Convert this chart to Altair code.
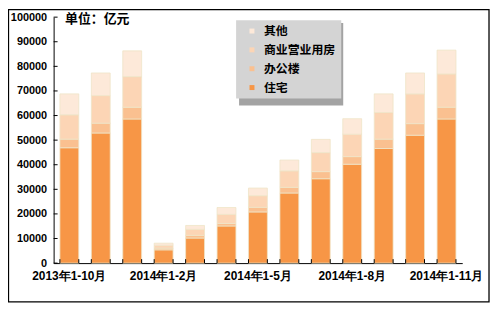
import altair as alt
import pandas as pd

# ---- data (亿元) ----
periods = ["2013年1-10月", "2013年1-11月", "2013年1-12月", "2014年1-2月", "2014年1-3月",
           "2014年1-4月", "2014年1-5月", "2014年1-6月", "2014年1-7月", "2014年1-8月",
           "2014年1-9月", "2014年1-10月", "2014年1-11月"]
shown_labels = ["2013年1-10月", "2014年1-2月", "2014年1-5月", "2014年1-8月", "2014年1-11月"]
residential = [46900, 52900, 58600, 5400, 10200, 15100, 20800, 28500, 34300, 40200, 46600, 52000, 58600]
office = [3500, 4000, 4800, 700, 1100, 1000, 1900, 2300, 2900, 3100, 3800, 4700, 4800]
commercial = [9900, 11200, 12400, 1100, 2400, 3700, 4700, 6700, 7700, 9100, 10800, 12100, 13500]
other = [8500, 9200, 10500, 900, 1600, 2800, 3100, 4400, 5400, 6300, 7600, 8500, 9700]
series_names = ["住宅", "办公楼", "商业营业用房", "其他"]
legend_order = ["其他", "商业营业用房", "办公楼", "住宅"]
colors = ["#FDE9D9", "#FCD5B5", "#FAC090", "#F79646"]
y_ticks = list(range(0, 100001, 10000))

rows = []
for s_i, (name, vals) in enumerate(zip(series_names, [residential, office, commercial, other])):
    for p, v in zip(periods, vals):
        rows.append({"period": p, "series": name, "value": v, "rank": s_i})
df = pd.DataFrame(rows)

FONT = "Liberation Sans"
CJK = "Noto Sans CJK SC"

W, H = 412, 248
xscale = alt.Scale(domain=periods, paddingInner=0.4, paddingOuter=0.2)
yscale = alt.Scale(domain=[0, 100000], nice=False)

x_axis = alt.Axis(values=shown_labels, labelAngle=0, labelFontSize=12,
                  labelPadding=8, labelOverlap=False)
y_axis = alt.Axis(values=y_ticks, tickCount=11, format="d", labelOverlap=False,
                  labelFontSize=11, labelPadding=7,
                  titleAngle=0, titleAlign="left", titleBaseline="middle",
                  titleX=11, titleY=1, titleFont=CJK, titleFontSize=13)

one = pd.DataFrame({"k": [1]})

shadow = alt.Chart(one).mark_rect(fill="#8c8c8c", opacity=0.8).encode(
    x=alt.value(187), x2=alt.value(292), y=alt.value(6), y2=alt.value(89)
)
frame = alt.Chart(one).mark_rect(filled=False, stroke="black", strokeWidth=1.3).encode(
    x=alt.value(-45.5), x2=alt.value(439), y=alt.value(-7.5), y2=alt.value(287)
)

bars = alt.Chart(df).mark_bar(stroke="#efe4c8", strokeWidth=0.8).encode(
    x=alt.X("period:N", sort=periods, scale=xscale, title=None, axis=x_axis),
    y=alt.Y("value:Q", stack="zero", scale=yscale, title="单位：亿元", axis=y_axis),
    color=alt.Color("series:N", scale=alt.Scale(domain=legend_order, range=colors),
                    legend=alt.Legend(title=None, orient="none", legendX=184, legendY=3,
                                      fillColor="#d4d4d4", padding=5, symbolType="square",
                                      symbolSize=25, symbolStrokeWidth=0, symbolOffset=5,
                                      labelFont=CJK, labelFontSize=12, labelFontWeight="bold",
                                      labelColor="black", labelOffset=6, rowPadding=7)),
    order=alt.Order("rank:Q"),
)

tick_df = pd.DataFrame({"period": periods})
xticks0 = alt.Chart(tick_df).mark_rule(color="black", strokeWidth=1).encode(
    x=alt.X("period:N", sort=periods, scale=xscale, bandPosition=0, title=None, axis=x_axis),
    y=alt.value(H), y2=alt.value(H - 4),
)
xticks1 = alt.Chart(tick_df).mark_rule(color="black", strokeWidth=1).encode(
    x=alt.X("period:N", sort=periods, scale=xscale, bandPosition=1, title=None, axis=x_axis),
    y=alt.value(H), y2=alt.value(H - 4),
)
yt_df = pd.DataFrame({"value": y_ticks})
yticks = alt.Chart(yt_df).mark_rule(color="black", strokeWidth=1).encode(
    y=alt.Y("value:Q", scale=yscale, title="单位：亿元", axis=y_axis),
    x=alt.value(0), x2=alt.value(4),
)

chart = alt.layer(bars, shadow, xticks0, xticks1, yticks, frame).properties(
    width=W, height=H, autosize="none",
    padding={"left": 46, "top": 8, "right": 28, "bottom": 40},
).configure(
    background="white",
).configure_view(
    stroke=None,
).configure_axis(
    labelFont=FONT, labelFontWeight="bold", labelColor="black",
    titleFontWeight="bold", titleColor="black", zindex=1,
    ticks=False, grid=False, domainColor="black", domainWidth=1,
)

chart.save("out.html", embed_options={"renderer": "svg", "actions": False})
